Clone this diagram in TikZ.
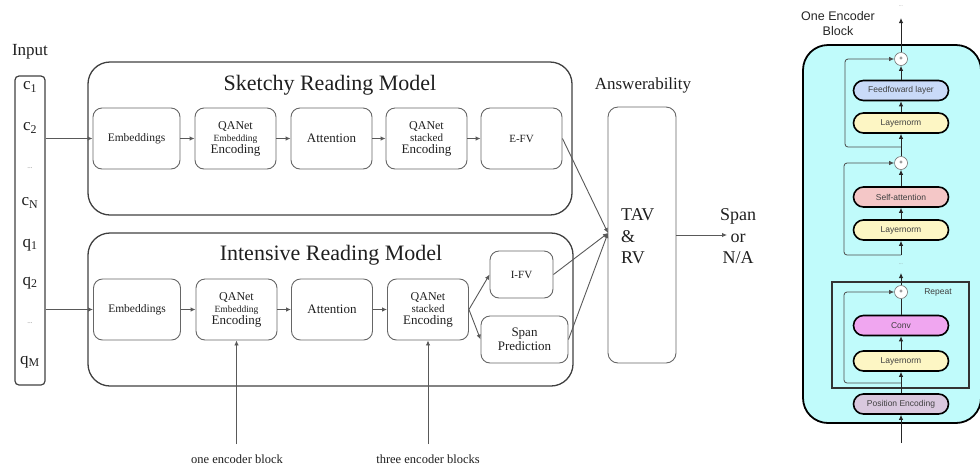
\documentclass[tikz,border=0pt]{standalone}
\usepackage{fontspec}
\setmainfont{Liberation Serif}
\setsansfont{Liberation Sans}
\usetikzlibrary{arrows.meta}
\newcommand{\fsz}[2]{\fontsize{#1pt}{#2pt}\selectfont}
\definecolor{cyanbg}{RGB}{192,251,251}
\definecolor{ffblue}{RGB}{201,218,248}
\definecolor{lnyellow}{RGB}{253,246,196}
\definecolor{sapink}{RGB}{244,199,199}
\definecolor{convviolet}{RGB}{240,166,240}
\definecolor{pelav}{RGB}{217,200,222}
\begin{document}
\begin{tikzpicture}[x=1pt,y=-1pt,
  box/.style={draw=black!60, line width=0.9pt, rounded corners=9pt, align=center, inner sep=0pt, text=black!88},
  outerbox/.style={draw=black!75, line width=1.3pt, rounded corners=22pt},
  arr/.style={draw=black!65, line width=0.9pt, -{Latex[length=5pt,width=4.5pt]}},
  pill/.style={draw=black, line width=1.6pt, rounded corners=10pt, minimum width=95pt, minimum height=20pt, inner sep=0pt, font=\sffamily\fsz{8.5}{10}, text=black!75},
  plus/.style={circle, draw=black!55, fill=white, line width=0.6pt, minimum size=13pt, inner sep=0pt, font=\sffamily\fsz{6}{6}},
  earr/.style={draw=black!85, line width=0.9pt, -{Latex[length=5pt,width=4.5pt]}},
  skip/.style={draw=black!70, line width=0.8pt, rounded corners=3pt, -{Latex[length=5pt,width=4.5pt]}},
  inlab/.style={font=\fsz{17}{20}, text=black!88},
  dots/.style={font=\fsz{7}{8}, text=black!50}
]
\useasboundingbox (0,0) rectangle (980,467);

% ---------- Input ----------
\node[inlab] (inlab) at (30,52) {Input};
\node[draw=black!75, line width=1.2pt, rounded corners=4pt, minimum width=30pt, minimum height=309pt, inner sep=0pt] (inp) at (30,230.5) {};
\node[inlab] (lc1) at (30,87) {c\textsubscript{1}};
\node[inlab] (lc2) at (30,128) {c\textsubscript{2}};
\node[dots] (lcd) at (30,168) {...};
\node[inlab] (lcn) at (30,203) {c\textsubscript{N}};
\node[inlab] (lq1) at (30,245) {q\textsubscript{1}};
\node[inlab] (lq2) at (30,283) {q\textsubscript{2}};
\node[dots] (lqd) at (30,323) {...};
\node[inlab] (lqm) at (30,362) {q\textsubscript{M}};

% ---------- Sketchy ----------
\node[outerbox, minimum width=484pt, minimum height=153pt] (sk) at (330,138.5) {};
\node[font=\fsz{22}{24}, text=black!88] (sktitle) at (330,85) {Sketchy Reading Model};
\node[box, minimum width=87pt, minimum height=61pt, font=\fsz{11.5}{13}] (se1) at (136.5,138.5) {Embeddings};
\node[box, minimum width=81pt, minimum height=61pt] (se2) at (235.5,138.5) {\fsz{12}{13}QANet\\\fsz{9.5}{13}Embedding\\\fsz{13}{13}Encoding};
\node[box, minimum width=81pt, minimum height=61pt, font=\fsz{13}{14}] (se3) at (331.5,138.5) {Attention};
\node[box, minimum width=81pt, minimum height=61pt] (se4) at (426.5,138.5) {\fsz{12}{13}QANet\\\fsz{11}{13}stacked\\\fsz{13}{13}Encoding};
\node[box, minimum width=81pt, minimum height=61pt, font=\fsz{11}{13}] (se5) at (521.5,138.5) {E-FV};

% ---------- Intensive ----------
\node[outerbox, minimum width=485pt, minimum height=153pt] (ir) at (330.5,309.5) {};
\node[font=\fsz{22}{24}, text=black!88] (irtitle) at (331,255) {Intensive Reading Model};
\node[box, minimum width=87pt, minimum height=61pt, font=\fsz{11.5}{13}] (ie1) at (137,309.5) {Embeddings};
\node[box, minimum width=81pt, minimum height=61pt] (ie2) at (236.5,309.5) {\fsz{12}{13}QANet\\\fsz{9.5}{13}Embedding\\\fsz{13}{13}Encoding};
\node[box, minimum width=81pt, minimum height=61pt, font=\fsz{13}{14}] (ie3) at (332,309.5) {Attention};
\node[box, minimum width=81pt, minimum height=61pt] (ie4) at (428,309.5) {\fsz{12}{13}QANet\\\fsz{11}{13}stacked\\\fsz{13}{13}Encoding};
\node[box, minimum width=63pt, minimum height=47pt, font=\fsz{11}{13}] (ifv) at (521.5,274.5) {I-FV};
\node[box, minimum width=87pt, minimum height=47pt, font=\fsz{13}{14}] (span) at (524.5,339.5) {Span\\Prediction};

% ---------- Answerability ----------
\node[font=\fsz{17}{20}, text=black!88] (ans) at (643,85) {Answerability};
\node[box, rounded corners=10pt, minimum width=68pt, minimum height=256pt] (tav) at (642,235) {};
\node[font=\fsz{18}{21.5}, align=left, anchor=west, text=black!88, inner sep=0pt] (tavtxt) at (621,236.5) {TAV\\\&\\RV};
\node[font=\fsz{18}{21.5}, align=center, text=black!88, inner sep=0pt] (out) at (738,236.5) {Span\\or\\N/A};
\coordinate (outtip) at (727,235);
\coordinate (tavin) at (608,233);

% ---------- bottom labels ----------
\node[font=\fsz{12.5}{14}, text=black!88] (oeb) at (237,459) {one encoder block};
\node[font=\fsz{12.5}{14}, text=black!88] (teb) at (428,459) {three encoder blocks};

% ---------- left connectors ----------
\draw[arr] (inp.east |- se1.west) -- (se1.west);
\draw[arr] (se1) -- (se2);
\draw[arr] (se2) -- (se3);
\draw[arr] (se3) -- (se4);
\draw[arr] (se4) -- (se5);
\draw[arr] (inp.east |- ie1.west) -- (ie1.west);
\draw[arr] (ie1) -- (ie2);
\draw[arr] (ie2) -- (ie3);
\draw[arr] (ie3) -- (ie4);
\draw[arr] (ie4.east) -- (ifv.west);
\draw[arr] (ie4.east) -- (span.west);
\draw[arr] (se5.east) -- (tavin);
\draw[arr] (ifv.east) -- (tavin);
\draw[arr] (span.east) -- (tavin);
\draw[arr] (tav.east) -- (outtip);
\draw[arr, shorten <=7pt] (ie2.south |- oeb.north) -- (ie2.south);
\draw[arr, shorten <=7pt] (ie4.south |- teb.north) -- (ie4.south);

% ---------- Encoder block ----------
\node[font=\sffamily\fsz{12.5}{15}, align=center, text=black!85] (enctitle) at (838,23.5) {One Encoder\\Block};
\node[draw=black, line width=1.8pt, fill=cyanbg, rounded corners=25pt, minimum width=178pt, minimum height=378pt, inner sep=0pt] (encbox) at (892,234) {};
\node[draw=black!80, line width=1.3pt, minimum width=137pt, minimum height=106pt, inner sep=0pt] (rep) at (900.5,335) {};
\node[font=\sffamily\fsz{8.5}{10}, text=black!75] (replab) at (938,292) {Repeat};

\node[plus] (c1) at (901,59) {+};
\node[pill, fill=ffblue] (ff) at (901,90.5) {Feedfoward layer};
\node[pill, fill=lnyellow] (ln1) at (901,123) {Layernorm};
\node[plus] (c2) at (901,163) {+};
\node[pill, fill=sapink] (sa) at (901,197) {Self-attention};
\node[pill, fill=lnyellow] (ln2) at (901,230) {Layernorm};
\node[plus] (c3) at (901,292) {+};
\node[pill, fill=convviolet] (conv) at (901,325.5) {Conv};
\node[pill, fill=lnyellow] (ln3) at (901,361) {Layernorm};
\node[pill, fill=pelav] (pe) at (901,404) {Position Encoding};

\coordinate (etop) at (901,18);
\node[font=\fsz{5}{5}, text=black!50] (edots) at (901,6) {...};
\node[font=\fsz{5}{5}, text=black!50] (edots2) at (901,264) {...};
\coordinate (b1) at (901,147);
\coordinate (b2) at (901,255);
\coordinate (t3) at (901,273);
\coordinate (b3) at (901,383);
\coordinate (ein) at (901,443);

\draw[earr] (c1.north) -- (etop);
\draw[earr] (ff.north) -- (c1.south);
\draw[earr] (ln1.north) -- (ff.south);
\draw[earr] (c2.north) -- (ln1.south);
\draw[skip] (b1) -- ++(-56,0) |- (c1.west);
\draw[earr] (sa.north) -- (c2.south);
\draw[earr] (ln2.north) -- (sa.south);
\draw[earr] (b2) -- (ln2.south);
\draw[skip] (b2) -- ++(-57,0) |- (c2.west);
\draw[earr] (c3.north) -- (t3);
\draw[draw=black!85, line width=0.9pt] (conv.north) -- (c3.south);
\draw[earr] (ln3.north) -- (conv.south);
\draw[earr] (pe.north) -- (ln3.south);
\draw[skip] (b3) -- ++(-57,0) |- (c3.west);
\draw[earr] (ein) -- (pe.south);
\end{tikzpicture}
\end{document}
